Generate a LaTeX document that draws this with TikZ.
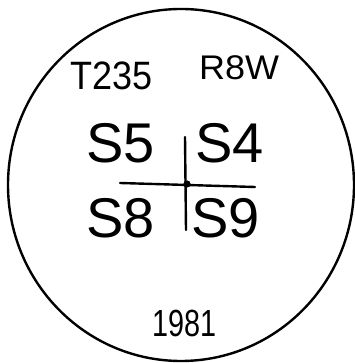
\documentclass[tikz,border=0pt]{standalone}
\usepackage{fontspec}
\setmainfont{Liberation Sans}
\begin{document}
\begin{tikzpicture}[x=1pt,y=1pt,
  ink/.style={line width=2.4pt,line cap=round},
  lbl/.style={inner sep=0pt,anchor=base west},
  big/.style={lbl,font=\fontsize{56}{60}\selectfont},
  hdr/.style={lbl,font=\fontsize{36}{40}\selectfont}]
\useasboundingbox (0,0) rectangle (354,363);
\fill[white] (0,0) rectangle (354,363);
\draw[ink] (181,178) ellipse [x radius=173, y radius=176];
\node[hdr] (twp) at (70,273) {\scalebox{1.0}[1.1]{T235}};
\node[hdr] (rng) at (199,283) {\scalebox{1}[0.95]{R8W}};
\node[big] (s5) at (86,200) {S5};
\node[big] (s4) at (195,200) {S4};
\node[big] (s8) at (86,125) {S8};
\node[big] (s9) at (191,125) {S9};
\node[hdr] (yr) at (152,26) {\scalebox{0.8}[1.05]{1981}};
\coordinate (hl) at (120,180);
\coordinate (hr) at (255,176);
\coordinate (vt) at (185,226);
\coordinate (vb) at (186,133);
\coordinate (ctr) at (187,179);
\draw[ink] (hl) -- (hr);
\draw[ink] (vt) -- (vb);
\fill (ctr) circle (3.6);
\end{tikzpicture}
\end{document}
